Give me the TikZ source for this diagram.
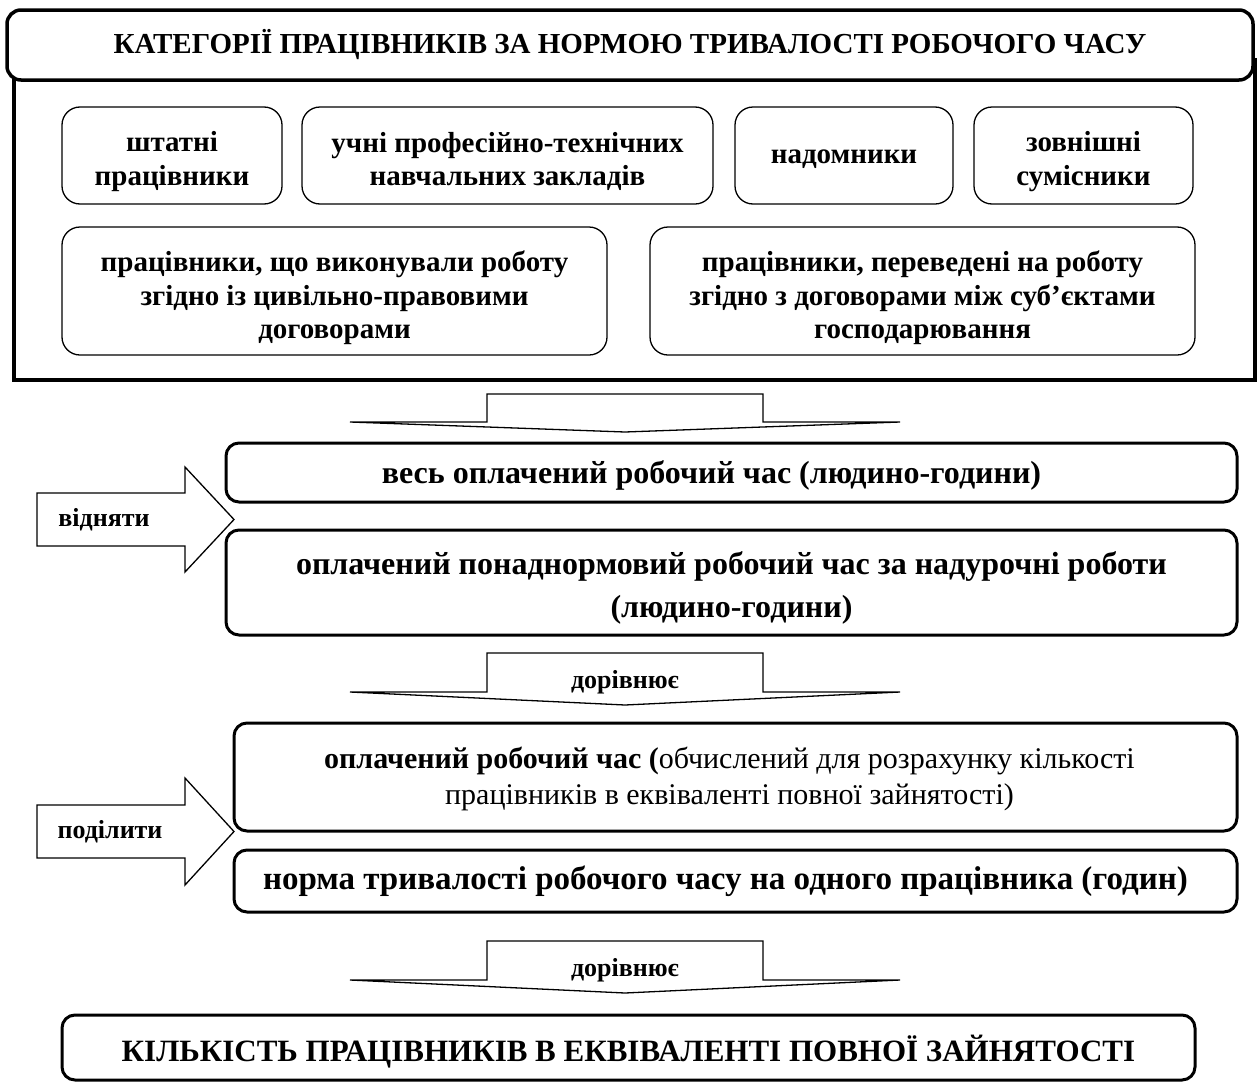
\documentclass[tikz,border=0pt]{standalone}
\usepackage{fontspec}
\setmainfont{Liberation Serif}
\begin{document}
\begin{tikzpicture}[x=1pt,y=-1pt,
  inbox/.style={draw, rounded corners=18, line width=1.3, inner sep=0pt},
  intext/.style={align=center, inner sep=0pt, font=\fontsize{29}{33.5}\selectfont\bfseries},
  midbox/.style={draw, rounded corners=13, line width=3, inner sep=0pt},
  midtext/.style={align=center, inner sep=0pt, font=\fontsize{32}{43}\selectfont\bfseries},
  barrow/.style={draw, line width=1.3, fill=white, line join=miter},
  lbl/.style={inner sep=0pt, font=\fontsize{26}{30}\selectfont\bfseries}
]
\useasboundingbox (0,0) rectangle (1257,1084);
% outer frame
\draw[line width=4] (14,60) rectangle (1255,380);
% title
\node[draw, fill=white, rounded corners=14, line width=3.5, minimum width=1246, minimum height=70, inner sep=0pt,
  font=\fontsize{29}{33}\selectfont\bfseries] (title) at (630,45) {КАТЕГОРІЇ ПРАЦІВНИКІВ ЗА НОРМОЮ ТРИВАЛОСТІ РОБОЧОГО ЧАСУ};
% row 1
\node[inbox, minimum width=220, minimum height=97] (n1) at (172,155.5) {};
\node[intext] (t1) at ([yshift=-6pt]n1.center) {штатні\\працівники};
\node[inbox, minimum width=411, minimum height=97] (n2) at (507.5,155.5) {};
\node[intext] (t2) at ([yshift=-6pt]n2.center) {учні професійно-технічних\\навчальних закладів};
\node[inbox, minimum width=218, minimum height=97] (n3) at (844,155.5) {};
\node[intext] (t3) at ([yshift=-4pt]n3.center) {надомники};
\node[inbox, minimum width=219, minimum height=97] (n4) at (1083.5,155.5) {};
\node[intext] (t4) at ([yshift=-6pt]n4.center) {зовнішні\\сумісники};
% row 2
\node[inbox, minimum width=545, minimum height=128] (n5) at (334.5,291) {};
\node[intext] (t5) at ([yshift=-7pt]n5.center) {працівники, що виконували роботу\\згідно із цивільно-правовими\\договорами};
\node[inbox, minimum width=545, minimum height=128] (n6) at (922.5,291) {};
\node[intext] (t6) at ([yshift=-7pt]n6.center) {працівники, переведені на роботу\\згідно з договорами між суб’єктами\\господарювання};
% down arrow 1
\draw[barrow] (350,422) -- (487,422) -- (487,394) -- (763,394) -- (763,422) -- (900,422) -- (625,432) -- cycle;
% boxes
\node[midbox, minimum width=1011, minimum height=59] (b1) at (731.5,472.5) {};
\node[midtext] (tb1) at ([yshift=-3pt,xshift=-20pt]b1.center) {весь оплачений робочий час (людино-години)};
\node[midbox, minimum width=1011, minimum height=105] (b2) at (731.5,582.5) {};
\node[midtext] (tb2) at ([yshift=-5pt]b2.center) {оплачений понаднормовий робочий час за надурочні роботи\\(людино-години)};
% left arrow 1
\draw[barrow] (37,493) -- (185,493) -- (185,467) -- (234,519.5) -- (185,572) -- (185,546) -- (37,546) -- cycle;
\node[lbl] (l1) at (104,520) {відняти};
% down arrow 2
\draw[barrow] (350,692) -- (487,692) -- (487,653) -- (763,653) -- (763,692) -- (900,692) -- (625,705) -- cycle;
\node[lbl] (d1) at (625,682) {дорівнює};
% boxes
\node[midbox, minimum width=1003, minimum height=108] (b3) at (735.5,777) {};
\node[midtext, font=\fontsize{30}{36}\selectfont] (tb3) at ([yshift=-2pt,xshift=-6pt]b3.center)
  {\textbf{оплачений робочий час (}обчислений для розрахунку кількості\\працівників в еквіваленті повної зайнятості)};
\node[midbox, minimum width=1003, minimum height=62] (b4) at (735.5,881) {};
\node[midtext, font=\fontsize{33}{40}\selectfont\bfseries] (tb4) at ([xshift=-10pt]b4.center) {норма тривалості робочого часу на одного працівника (годин)};
% left arrow 2
\draw[barrow] (37,805) -- (185,805) -- (185,778) -- (234,831.5) -- (185,885) -- (185,858) -- (37,858) -- cycle;
\node[lbl] (l2) at (110,832) {поділити};
% down arrow 3
\draw[barrow] (350,980) -- (487,980) -- (487,941) -- (763,941) -- (763,980) -- (900,980) -- (625,993) -- cycle;
\node[lbl] (d2) at (625,970) {дорівнює};
% final
\node[midbox, minimum width=1133, minimum height=65] (fin) at (628.5,1047.5) {};
\node[midtext, font=\fontsize{31}{35}\selectfont\bfseries] (tfin) at ([yshift=-4pt]fin.center) {КІЛЬКІСТЬ ПРАЦІВНИКІВ В ЕКВІВАЛЕНТІ ПОВНОЇ ЗАЙНЯТОСТІ};
\end{tikzpicture}
\end{document}
